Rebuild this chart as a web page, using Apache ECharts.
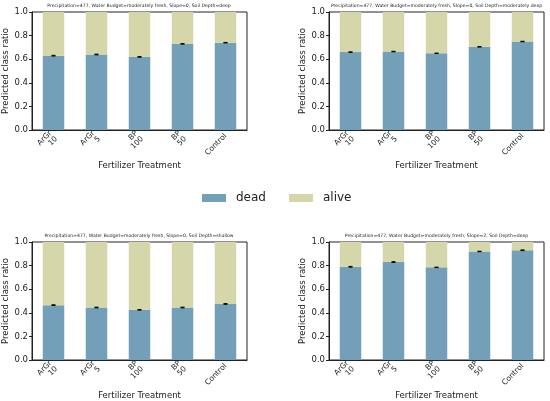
<!DOCTYPE html>
<html>
<head>
<meta charset="utf-8">
<script src="https://cdn.jsdelivr.net/npm/echarts@6/dist/echarts.min.js"></script>
<style>
  html, body { margin: 0; padding: 0; background: #fff; }
  #chart { width: 550px; height: 401px; }
</style>
</head>
<body>
<div id="chart"></div>
<script>
// categories and tick labels
const treatments = ['ArGr\n10', 'ArGr\n5', 'BP\n100', 'BP\n50', 'Control'];
const yTicks = [0, 0.2, 0.4, 0.6, 0.8, 1.0];

const panelTitles = [
  'Precipitation=477, Water Budget=moderately fresh, Slope=0, Soil Depth=deep',
  'Precipitation=477, Water Budget=moderately fresh, Slope=0, Soil Depth=moderately deep',
  'Precipitation=477, Water Budget=moderately fresh, Slope=0, Soil Depth=shallow',
  'Precipitation=477, Water Budget=moderately fresh, Slope=2, Soil Depth=deep'
];

// predicted ratio of "dead" per panel
const deadDeep = [0.63, 0.64, 0.62, 0.73, 0.74];
const deadModDeep = [0.66, 0.665, 0.65, 0.705, 0.75];
const deadShallow = [0.465, 0.445, 0.425, 0.445, 0.475];
const deadSlope2 = [0.79, 0.83, 0.785, 0.92, 0.93];

// predicted ratio of "alive" per panel (stacked on top)
const aliveDeep = [0.37, 0.36, 0.38, 0.27, 0.26];
const aliveModDeep = [0.34, 0.335, 0.35, 0.295, 0.25];
const aliveShallow = [0.535, 0.555, 0.575, 0.555, 0.525];
const aliveSlope2 = [0.21, 0.17, 0.215, 0.08, 0.07];

// half-width of the error bars on the dead ratio
const errDeep = [0.003, 0.003, 0.003, 0.002, 0.002];
const errModDeep = [0.002, 0.002, 0.002, 0.002, 0.002];
const errShallow = [0.003, 0.003, 0.002, 0.003, 0.003];
const errSlope2 = [0.003, 0.003, 0.002, 0.002, 0.003];

const deadAll = [deadDeep, deadModDeep, deadShallow, deadSlope2];
const aliveAll = [aliveDeep, aliveModDeep, aliveShallow, aliveSlope2];
const errAll = [errDeep, errModDeep, errShallow, errSlope2];

const BLUE = '#739fb8';
const SAGE = '#d5d6a9';
const FONT = 'DejaVu Sans';

const grids = [
  { left: 31, top: 12, width: 216, height: 118 },
  { left: 329, top: 12, width: 215, height: 118 },
  { left: 31, top: 242, width: 216, height: 118 },
  { left: 329, top: 242, width: 215, height: 118 }
];

const chart = echarts.init(document.getElementById('chart'), null, { renderer: 'canvas' });

let option = {
  animation: false,
  backgroundColor: '#fff',
  textStyle: { fontFamily: FONT },
  title: [],
  legend: {
    data: ['dead', 'alive'],
    left: 202,
    top: 192,
    padding: 0,
    itemWidth: 24,
    itemHeight: 8,
    itemGap: 23,
    textStyle: { fontSize: 12, color: '#222', fontFamily: FONT, padding: [0, 0, 0, 5] },
    icon: 'rect'
  },
  grid: [],
  xAxis: [],
  yAxis: [],
  series: []
};

grids.forEach(function (g, i) {
  option.grid.push(Object.assign({
    show: true, borderColor: '#222', borderWidth: 1, backgroundColor: 'transparent'
  }, g));

  option.title.push({
    text: panelTitles[i],
    left: g.left + g.width / 2,
    top: g.top - 9,
    padding: 0,
    textAlign: 'center',
    textStyle: { fontSize: 4.6, fontWeight: 'normal', color: '#222', fontFamily: FONT }
  });

  option.xAxis.push({
    type: 'category',
    gridIndex: i,
    data: treatments,
    name: 'Fertilizer Treatment',
    nameLocation: 'middle',
    nameGap: 31,
    nameTextStyle: { fontSize: 8.5, color: '#222' },
    axisLine: { lineStyle: { color: '#222', width: 1 } },
    axisTick: { alignWithLabel: true, length: 3, lineStyle: { color: '#222' } },
    axisLabel: {
      rotate: 45, fontSize: 7.5, color: '#222', margin: 5, lineHeight: 8, interval: 0
    },
    splitLine: { show: false }
  });

  option.yAxis.push({
    type: 'value',
    gridIndex: i,
    min: 0, max: 1, interval: 0.2,
    name: 'Predicted class ratio',
    nameLocation: 'middle',
    nameGap: 22,
    nameTextStyle: { fontSize: 8.5, color: '#222' },
    axisLine: { show: true, lineStyle: { color: '#222', width: 1 } },
    axisTick: { show: true, length: 3, lineStyle: { color: '#222' } },
    axisLabel: {
      fontSize: 8.5, color: '#222', margin: 4,
      formatter: function (v) { return yTicks.indexOf(v) >= 0 ? v.toFixed(1) : ''; }
    },
    splitLine: { show: false }
  });

  option.series.push({
    name: 'dead', type: 'bar', stack: 'p' + i,
    xAxisIndex: i, yAxisIndex: i,
    barWidth: '50%',
    itemStyle: { color: BLUE },
    data: deadAll[i]
  });
  option.series.push({
    name: 'alive', type: 'bar', stack: 'p' + i,
    xAxisIndex: i, yAxisIndex: i,
    barWidth: '50%',
    itemStyle: { color: SAGE },
    data: aliveAll[i]
  });

  // error bars at the top of the dead bars
  option.series.push({
    name: 'err' + i, type: 'custom',
    xAxisIndex: i, yAxisIndex: i,
    z: 10,
    data: deadAll[i].map(function (d, k) { return [k, d - errAll[i][k], d + errAll[i][k]]; }),
    renderItem: function (params, api) {
      const lo = api.coord([api.value(0), api.value(1)]);
      const hi = api.coord([api.value(0), api.value(2)]);
      const w = 2;
      const st = { stroke: '#000', lineWidth: 1 };
      return {
        type: 'group',
        children: [
          { type: 'line', shape: { x1: hi[0], y1: hi[1], x2: lo[0], y2: lo[1] }, style: st },
          { type: 'line', shape: { x1: hi[0] - w, y1: hi[1], x2: hi[0] + w, y2: hi[1] }, style: st },
          { type: 'line', shape: { x1: lo[0] - w, y1: lo[1], x2: lo[0] + w, y2: lo[1] }, style: st }
        ]
      };
    }
  });
});

chart.setOption(option);
</script>
</body>
</html>
